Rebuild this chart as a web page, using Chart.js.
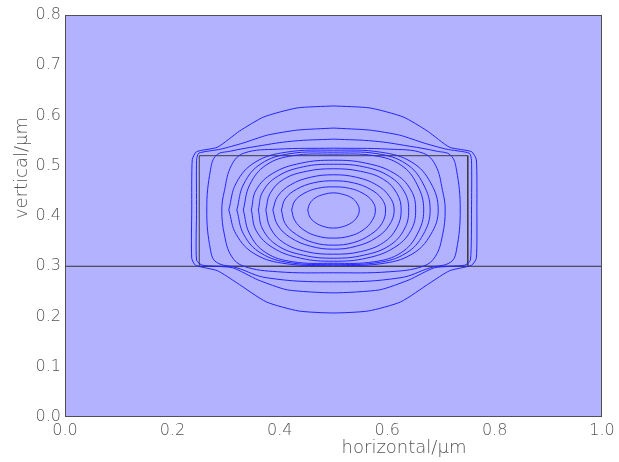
<!DOCTYPE html>
<html>
<head>
<meta charset="utf-8">
<script src="https://cdn.jsdelivr.net/npm/chart.js@4"></script>
<style>
  html, body { margin: 0; padding: 0; background: #fff; }
  #wrap { width: 619px; height: 462px; }
</style>
</head>
<body>
<div id="wrap"><canvas id="modeChart" width="619" height="462"></canvas></div>
<script>
// axis ticks
const xTicks = [0.0, 0.2, 0.4, 0.6, 0.8, 1.0];
const yTicks = [0.0, 0.1, 0.2, 0.3, 0.4, 0.5, 0.6, 0.7, 0.8];

// waveguide core outline and substrate surface
const core = [[0.25, 0.30], [0.25, 0.52], [0.75, 0.52], [0.75, 0.30], [0.25, 0.30]];
const substrate = [[0.0, 0.30], [1.0, 0.30]];

// field contours, outermost first (x, y in micrometres)
const c01 = [[0.50,0.619],[0.568,0.615],[0.630,0.597],[0.675,0.569],[0.716,0.537],[0.757,0.528],[0.766,0.512],[0.767,0.412],[0.766,0.316],[0.757,0.302],[0.716,0.291],[0.680,0.267],[0.625,0.229],[0.565,0.211],[0.50,0.207],[0.435,0.211],[0.375,0.229],[0.320,0.267],[0.284,0.291],[0.243,0.302],[0.236,0.316],[0.236,0.412],[0.237,0.512],[0.245,0.528],[0.284,0.537],[0.325,0.569],[0.370,0.597],[0.432,0.615],[0.50,0.619]];
const c02 = [[0.50,0.575],[0.567,0.571],[0.623,0.561],[0.669,0.545],[0.710,0.533],[0.753,0.525],[0.757,0.511],[0.757,0.412],[0.755,0.312],[0.744,0.302],[0.688,0.297],[0.641,0.273],[0.586,0.253],[0.50,0.247],[0.414,0.253],[0.359,0.273],[0.312,0.297],[0.256,0.302],[0.245,0.312],[0.245,0.412],[0.245,0.511],[0.249,0.525],[0.290,0.533],[0.331,0.545],[0.377,0.561],[0.433,0.571],[0.50,0.575]];
const c03 = [[0.50,0.553],[0.576,0.549],[0.641,0.539],[0.692,0.529],[0.718,0.521],[0.729,0.492],[0.736,0.412],[0.729,0.332],[0.718,0.308],[0.680,0.297],[0.624,0.277],[0.50,0.269],[0.376,0.277],[0.320,0.297],[0.282,0.308],[0.271,0.332],[0.264,0.412],[0.271,0.492],[0.282,0.521],[0.308,0.529],[0.359,0.539],[0.424,0.549],[0.50,0.553]];
const c04 = [[0.50,0.535],[0.604,0.533],[0.667,0.525],[0.690,0.501],[0.703,0.451],[0.708,0.412],[0.703,0.362],[0.690,0.320],[0.667,0.300],[0.604,0.289],[0.50,0.287],[0.396,0.289],[0.333,0.300],[0.310,0.320],[0.297,0.362],[0.292,0.412],[0.297,0.451],[0.310,0.501],[0.333,0.525],[0.396,0.533],[0.50,0.535]];
const c05 = [[0.305,0.412],[0.319,0.466],[0.354,0.507],[0.412,0.527],[0.500,0.531],[0.588,0.527],[0.646,0.507],[0.681,0.466],[0.695,0.412],[0.681,0.363],[0.646,0.324],[0.588,0.305],[0.500,0.302],[0.412,0.305],[0.354,0.324],[0.319,0.363],[0.305,0.412]];
const c06 = [[0.320,0.412],[0.333,0.464],[0.365,0.504],[0.419,0.524],[0.500,0.527],[0.581,0.524],[0.635,0.504],[0.667,0.464],[0.680,0.412],[0.667,0.363],[0.635,0.326],[0.581,0.307],[0.500,0.304],[0.419,0.307],[0.365,0.326],[0.333,0.363],[0.320,0.412]];
const c07 = [[0.332,0.412],[0.344,0.462],[0.374,0.501],[0.424,0.520],[0.500,0.523],[0.576,0.520],[0.626,0.501],[0.656,0.462],[0.668,0.412],[0.656,0.364],[0.626,0.327],[0.576,0.309],[0.500,0.306],[0.424,0.309],[0.374,0.327],[0.344,0.364],[0.332,0.412]];
const c08 = [[0.347,0.412],[0.356,0.452],[0.387,0.485],[0.439,0.505],[0.500,0.511],[0.561,0.505],[0.613,0.485],[0.644,0.452],[0.653,0.412],[0.644,0.371],[0.613,0.337],[0.561,0.316],[0.500,0.310],[0.439,0.316],[0.387,0.337],[0.356,0.371],[0.347,0.412]];
const c09 = [[0.360,0.412],[0.368,0.448],[0.396,0.479],[0.444,0.498],[0.500,0.503],[0.556,0.498],[0.604,0.479],[0.632,0.448],[0.640,0.412],[0.632,0.374],[0.604,0.341],[0.556,0.322],[0.500,0.316],[0.444,0.322],[0.396,0.341],[0.368,0.374],[0.360,0.412]];
const c10 = [[0.374,0.412],[0.382,0.445],[0.407,0.473],[0.450,0.489],[0.500,0.494],[0.550,0.489],[0.593,0.473],[0.618,0.445],[0.626,0.412],[0.618,0.377],[0.593,0.347],[0.550,0.329],[0.500,0.324],[0.450,0.329],[0.407,0.347],[0.382,0.377],[0.374,0.412]];
const c11 = [[0.387,0.412],[0.396,0.439],[0.420,0.462],[0.457,0.477],[0.500,0.482],[0.543,0.477],[0.580,0.462],[0.604,0.439],[0.613,0.412],[0.604,0.382],[0.580,0.357],[0.543,0.340],[0.500,0.334],[0.457,0.340],[0.420,0.357],[0.396,0.382],[0.387,0.412]];
const c12 = [[0.403,0.412],[0.410,0.434],[0.431,0.453],[0.463,0.466],[0.500,0.470],[0.537,0.466],[0.569,0.453],[0.590,0.434],[0.597,0.412],[0.590,0.385],[0.569,0.363],[0.537,0.347],[0.500,0.342],[0.463,0.347],[0.431,0.363],[0.410,0.385],[0.403,0.412]];
const c13 = [[0.422,0.412],[0.428,0.430],[0.445,0.445],[0.470,0.455],[0.500,0.458],[0.530,0.455],[0.555,0.445],[0.572,0.430],[0.578,0.412],[0.572,0.391],[0.555,0.372],[0.530,0.360],[0.500,0.356],[0.470,0.360],[0.445,0.372],[0.428,0.391],[0.422,0.412]];
const c14 = [[0.452,0.412],[0.456,0.425],[0.466,0.436],[0.482,0.443],[0.500,0.446],[0.518,0.443],[0.534,0.436],[0.544,0.425],[0.548,0.412],[0.544,0.398],[0.534,0.387],[0.518,0.379],[0.500,0.376],[0.482,0.379],[0.466,0.387],[0.456,0.398],[0.452,0.412]];

const contours = [c01, c02, c03, c04, c05, c06, c07, c08, c09, c10, c11, c12, c13, c14];

const toXY = pts => pts.map(p => ({ x: p[0], y: p[1] }));

const datasets = [];

contours.forEach((pts, i) => {
  datasets.push({
    data: toXY(pts),
    showLine: true,
    borderColor: '#2424ff',
    borderWidth: 1,
    pointRadius: 0,
    tension: i < 2 ? 0.2 : 0.4,
    order: 1
  });
});

// structure lines go underneath the contours
datasets.push({
  data: toXY(core),
  showLine: true,
  borderColor: '#3c3c3c',
  borderWidth: 1,
  pointRadius: 0,
  tension: 0,
  order: 2
});
datasets.push({
  data: toXY(substrate),
  showLine: true,
  borderColor: '#303030',
  borderWidth: 1,
  pointRadius: 0,
  tension: 0,
  order: 2
});

const textColor = '#555555';
const tickFont = { family: 'DejaVu Sans', size: 16, weight: 200 };

// fill the plot area and draw the frame and axis titles
const framePlugin = {
  id: 'frame',
  beforeDatasetsDraw(chart) {
    const a = chart.chartArea;
    const ctx = chart.ctx;
    ctx.save();
    ctx.fillStyle = '#b2b2ff';
    ctx.fillRect(a.left, a.top, a.right - a.left, a.bottom - a.top);
    ctx.restore();
  },
  afterDatasetsDraw(chart) {
    const a = chart.chartArea;
    const ctx = chart.ctx;
    ctx.save();
    ctx.strokeStyle = '#505050';
    ctx.lineWidth = 1;
    ctx.strokeRect(a.left + 0.5, a.top + 0.5, a.right - a.left - 1, a.bottom - a.top - 1);

    ctx.fillStyle = textColor;
    ctx.font = '200 18px "DejaVu Sans"';
    ctx.textAlign = 'center';
    ctx.textBaseline = 'middle';
    ctx.fillText('horizontal/\u03bcm', 404, 448);

    ctx.translate(22, 168);
    ctx.rotate(-Math.PI / 2);
    ctx.fillText('vertical/\u03bcm', 0, 0);
    ctx.restore();
  }
};

new Chart(document.getElementById('modeChart'), {
  type: 'scatter',
  data: { datasets: datasets },
  options: {
    responsive: false,
    animation: false,
    layout: { padding: { left: 0, top: 15, right: 17, bottom: 0 } },
    plugins: {
      legend: { display: false },
      tooltip: { enabled: false }
    },
    scales: {
      x: {
        type: 'linear',
        min: 0,
        max: 1,
        afterBuildTicks: scale => { scale.ticks = xTicks.map(v => ({ value: v })); },
        afterFit: scale => { scale.height = 45; },
        grid: { display: false, drawTicks: false },
        border: { display: false },
        ticks: {
          padding: 4,
          color: textColor,
          font: tickFont,
          maxRotation: 0,
          callback: v => v.toFixed(1)
        }
      },
      y: {
        type: 'linear',
        min: 0,
        max: 0.8,
        afterBuildTicks: scale => { scale.ticks = yTicks.map(v => ({ value: v })); },
        afterFit: scale => { scale.width = 65; },
        grid: { display: false, drawTicks: false },
        border: { display: false },
        ticks: {
          padding: 4,
          color: textColor,
          font: tickFont,
          callback: v => v.toFixed(1)
        }
      }
    }
  },
  plugins: [framePlugin]
});
</script>
</body>
</html>
